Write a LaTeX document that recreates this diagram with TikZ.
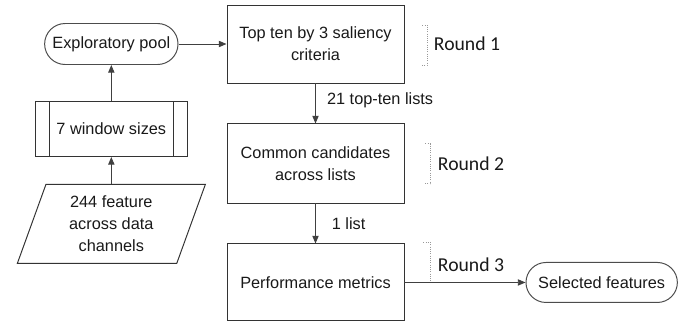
\documentclass[tikz,border=0pt]{standalone}
\usepackage{fontspec}
\setmainfont{Liberation Sans}
\newfontfamily\roundfont{Carlito}
\usetikzlibrary{positioning,shapes.geometric,shapes.misc,arrows.meta}

\begin{document}
\begin{tikzpicture}[
        font=\fontsize{11.6pt}{15.6pt}\selectfont,
        node distance=1cm,
        >={Triangle[length=5.5pt,width=4.5pt]},
        line width=0.7pt,
        text=black!90,
        box/.style={draw=black!80, minimum width=4.425cm, minimum height=1.95cm, align=center, inner sep=2pt},
        term/.style={rounded rectangle, draw=black!70, minimum height=1.025cm, inner sep=2pt},
        winbox/.style={draw=black!80, minimum width=3.8cm, minimum height=1.375cm,
            path picture={
                \draw[black!80] ([xshift=0.35cm]path picture bounding box.north west) -- ([xshift=0.35cm]path picture bounding box.south west);
                \draw[black!80] ([xshift=-0.35cm]path picture bounding box.north east) -- ([xshift=-0.35cm]path picture bounding box.south east);
            }},
        databox/.style={trapezium, draw=black!80, trapezium left angle=64, trapezium right angle=116, trapezium stretches body,
            minimum width=4.7cm, minimum height=1.975cm, align=center, inner sep=1pt},
        arrow/.style={->, draw=black!75},
        bracket/.style={draw=gray!80, line width=0.6pt, densely dotted},
        roundlbl/.style={font=\roundfont\fontsize{14pt}{16pt}\selectfont, inner sep=0pt, anchor=west},
    ]
    \useasboundingbox (0,0) rectangle (17.2,-8.1);

    % main column
    \node[box] (top) at (7.8875,-1.1) {Top ten by 3 saliency\\criteria};
    \node[box, below=of top, minimum height=1.975cm] (common) {Common candidates\\across lists};
    \node[box, below=of common, minimum height=1.925cm] (perf) {Performance metrics};

    % left column
    \node[term, left=1.2cm of top, minimum width=3.475cm] (pool) {Exploratory pool};
    \node[winbox, below=0.9cm of pool] (win) {7 window sizes};
    \node[databox, below=0.675cm of win] (feat) {244 feature\\across data\\channels};

    % output
    \node[term, right=3.025cm of perf, minimum width=3.925cm, minimum height=1cm] (sel) {Selected features};

    % connections
    \draw[arrow] (feat.north) -- (win.south);
    \draw[arrow] (win.north) -- (pool.south);
    \draw[arrow] (pool.east) -- (pool.east -| top.west);
    \draw[arrow] (top) -- node[right, xshift=0.16cm, yshift=0.075cm] {21 top-ten lists} (common);
    \draw[arrow] (common) -- node[right, xshift=0.28cm] {1 list} (perf);
    \draw[arrow] (perf.east) -- (sel.west);

    % rounds
    \draw[bracket] ([shift={(0.45,0.475)}]top.east) -- ++(0.125,0) -- ++(0,-1.0) -- ++(-0.125,0);
    \node[roundlbl] (r1) at ([xshift=0.725cm]top.east) {Round 1};
    \draw[bracket] ([shift={(0.525,0.49)}]common.east) -- ++(0.125,0) -- ++(0,-1.0) -- ++(-0.125,0);
    \node[roundlbl] (r2) at ([xshift=0.825cm]common.east) {Round 2};
    \draw[bracket] ([shift={(0.475,1.0)}]perf.east) -- ++(0.175,0) -- ++(0,-1.0);
    \node[roundlbl] (r3) at ([shift={(0.825,0.45)}]perf.east) {Round 3};

    % cut edge below the last box
    \draw[line width=1.5pt, black!75] ([yshift=-0.12cm]perf.south west) -- ([yshift=-0.12cm]perf.south east);

\end{tikzpicture}
\end{document}
